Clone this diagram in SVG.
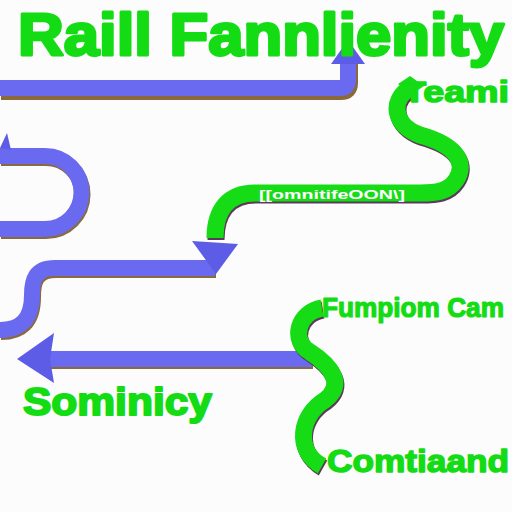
<svg xmlns="http://www.w3.org/2000/svg" width="512" height="512" viewBox="0 0 512 512">
<style>
.bg{fill:#fcfcfc}
.t{font-family:"Liberation Sans",Arial,sans-serif;font-weight:bold;fill:#14dc14;stroke:#14dc14;stroke-linejoin:round}
.bp{fill:none;stroke:#6a6af0;stroke-width:16}
.bs{fill:none;stroke:#8a6a3a;stroke-width:16}
.gp{fill:none;stroke:#16dc16;stroke-width:17}
.gs{fill:none;stroke:#5a3a5a;stroke-width:17}
.ba{fill:#5c5ce6}
.lbl{font-family:"Liberation Sans",Arial,sans-serif;font-weight:bold;fill:#ffffff;font-size:13px}
</style>
<rect class="bg" x="0" y="0" width="512" height="512"/>
<g id="connectors">
  <path class="bs" d="M0,90 H340 Q349,90 349,81 V58" transform="translate(1,2)"/>
  <path class="bp" d="M0,88 H340 Q348,88 348,80 V56"/>
  <polygon class="ba" points="331,64 365,64 348,40"/>
  <path class="bs" d="M0,156 H45 A36.5,36.5 0 0 1 45,229 H0" transform="translate(1,2)"/>
  <path class="bp" d="M0,156 H45 A36.5,36.5 0 0 1 45,229 H0"/>
  <polygon class="ba" points="0,148 7,133 11,150"/>
  <path class="gs" d="M410,88 C390,100 393,125 420,135 C460,146 466,165 456,180 C448,192 436,193 420,193 H255 C228,193 215,210 215,238" transform="translate(1,2)"/>
  <path class="gp" d="M410,88 C390,100 393,125 420,135 C460,146 466,165 456,180 C448,192 436,193 420,193 H255 C228,193 215,210 215,238"/>
  <polygon points="398,84 410,76 424,86 412,94" fill="#16dc16"/>
  <path class="bs" d="M215,268 H55 C35,268 32,280 32,295 C32,320 20,330 0,330" transform="translate(1,2)"/>
  <path class="bp" d="M215,268 H55 C35,268 32,280 32,295 C32,320 20,330 0,330"/>
  <polygon class="ba" points="192,241 238,244 216,274"/>
  <path class="bs" d="M312,359 H50" transform="translate(1,2)"/>
  <path class="bp" d="M312,359 H50"/>
  <polygon class="ba" points="17,359 54,333 50,359 54,383"/>
  <path class="gs" d="M322,308 C298,312 290,340 310,352 C332,366 345,385 325,400 C300,415 294,450 322,466" transform="translate(1,2)"/>
  <path class="gp" d="M322,308 C298,312 290,340 310,352 C332,366 345,385 325,400 C300,415 294,450 322,466"/>
</g>
<g id="title"><text class="t" x="18" y="55" font-size="60" stroke-width="3" textLength="486" lengthAdjust="spacingAndGlyphs">Raill Fannlienity</text></g>
<g id="node-teami"><text class="t" x="403" y="102" font-size="29" stroke-width="1.5" textLength="106" lengthAdjust="spacingAndGlyphs">Teami</text></g>
<g id="node-band"><text class="lbl" x="259" y="199" textLength="146" lengthAdjust="spacingAndGlyphs">[[omnitifeOON\]</text></g>
<g id="node-fumpiom"><text class="t" x="322" y="317" font-size="27" stroke-width="1.2" textLength="182" lengthAdjust="spacingAndGlyphs">Fumpiom Cam</text></g>
<g id="node-sominicy"><text class="t" x="23" y="415" font-size="39" stroke-width="2" textLength="189" lengthAdjust="spacingAndGlyphs">Sominicy</text></g>
<g id="node-comtiaand"><text class="t" x="327" y="472" font-size="32" stroke-width="1.5" textLength="182" lengthAdjust="spacingAndGlyphs">Comtiaand</text></g>
</svg>
